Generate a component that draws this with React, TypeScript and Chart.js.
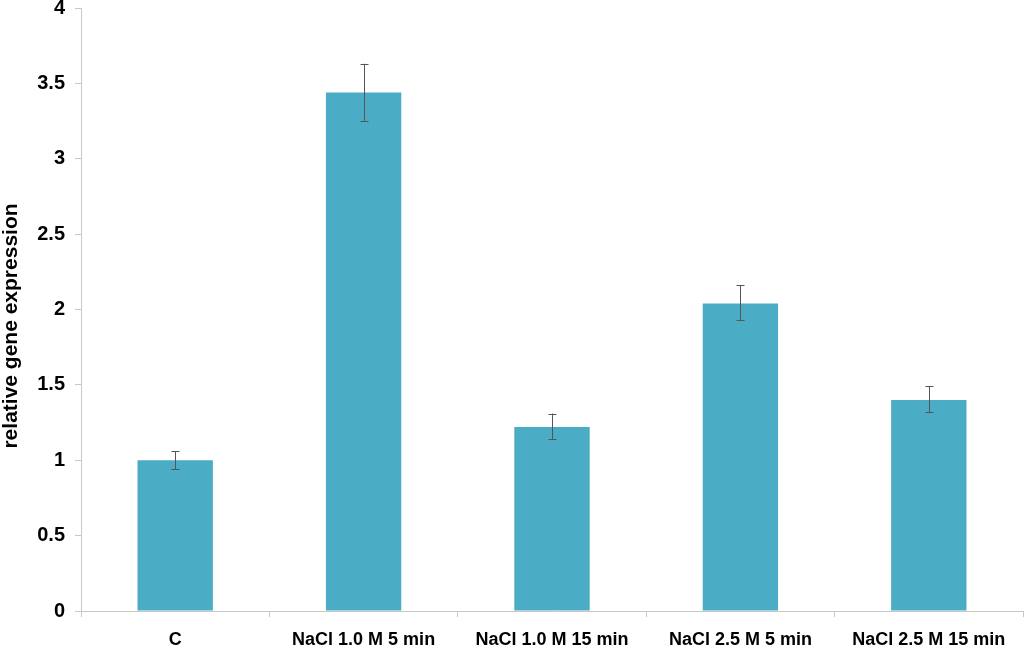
import React, { useEffect, useRef } from "react";
import { Chart, registerables } from "chart.js";

Chart.register(...registerables);

const categories = ["C", "NaCl 1.0 M 5 min", "NaCl 1.0 M 15 min", "NaCl 2.5 M 5 min", "NaCl 2.5 M 15 min"];
const values = [1.0, 3.44, 1.22, 2.04, 1.4];
const errLow = [0.94, 3.25, 1.14, 1.93, 1.32];
const errHigh = [1.06, 3.63, 1.31, 2.16, 1.49];
const yTitle = "relative gene expression";

const FONT = "'Liberation Sans', Arial, sans-serif";

const errorBarPlugin = {
  id: "errorBars",
  afterDatasetsDraw(chart: any) {
    const ctx = chart.ctx;
    const meta = chart.getDatasetMeta(0);
    const y = chart.scales.y;
    ctx.save();
    ctx.strokeStyle = "#555555";
    ctx.lineWidth = 1;
    meta.data.forEach((bar: any, i: number) => {
      const x = Math.round(bar.x) + 0.5;
      const yl = y.getPixelForValue(errLow[i]);
      const yh = y.getPixelForValue(errHigh[i]);
      ctx.beginPath();
      ctx.moveTo(x, yl);
      ctx.lineTo(x, yh);
      ctx.moveTo(x - 4, Math.round(yl) + 0.5);
      ctx.lineTo(x + 4, Math.round(yl) + 0.5);
      ctx.moveTo(x - 4, Math.round(yh) + 0.5);
      ctx.lineTo(x + 4, Math.round(yh) + 0.5);
      ctx.stroke();
    });
    ctx.restore();
  },
};

const yTitlePlugin = {
  id: "yTitle",
  afterDraw(chart: any) {
    const ctx = chart.ctx;
    ctx.save();
    ctx.translate(11, 326);
    ctx.rotate(-Math.PI / 2);
    ctx.font = `bold 21px ${FONT}`;
    ctx.fillStyle = "#000";
    ctx.textAlign = "center";
    ctx.textBaseline = "middle";
    ctx.fillText(yTitle, 0, 0);
    ctx.restore();
  },
};

export default function App() {
  const ref = useRef<HTMLCanvasElement>(null);
  useEffect(() => {
    document.body.style.margin = "0";
    const chart = new Chart(ref.current!, {
      type: "bar",
      data: {
        labels: categories,
        datasets: [
          {
            data: values,
            backgroundColor: "#4BACC6",
            categoryPercentage: 1,
            barPercentage: 0.4,
          },
        ],
      },
      options: {
        animation: false,
        responsive: false,
        layout: { padding: { top: 8, right: 1, left: 0, bottom: 0 } },
        plugins: { legend: { display: false }, tooltip: { enabled: false } },
        scales: {
          x: {
            grid: { display: true, drawOnChartArea: false, tickLength: 6, color: "#c8c8c8", offset: true },
            border: { color: "#c8c8c8" },
            ticks: {
              color: "#000",
              font: { family: FONT, size: 18, weight: "bold" },
              maxRotation: 0,
              autoSkip: false,
              padding: 12,
            },
            afterFit(scale: any) {
              scale.height = 36;
              scale.paddingLeft = 0;
              scale.paddingRight = 0;
            },
          },
          y: {
            min: 0,
            max: 4,
            ticks: {
              stepSize: 0.5,
              color: "#000",
              font: { family: FONT, size: 20, weight: "bold" },
              padding: 10,
              callback: (v: any) => String(Number(v)),
            },
            grid: { display: true, drawOnChartArea: false, tickLength: 6, color: "#c8c8c8" },
            border: { color: "#c8c8c8" },
            afterFit(scale: any) {
              scale.width = 81;
              scale.paddingTop = 0;
              scale.paddingBottom = 0;
            },
          },
        },
      },
      plugins: [errorBarPlugin, yTitlePlugin],
    } as any);
    return () => chart.destroy();
  }, []);
  return (
    <div style={{ position: "absolute", left: 0, top: 0, width: 1024, height: 647, background: "#fff" }}>
      <canvas ref={ref} width={1024} height={647} />
    </div>
  );
}
